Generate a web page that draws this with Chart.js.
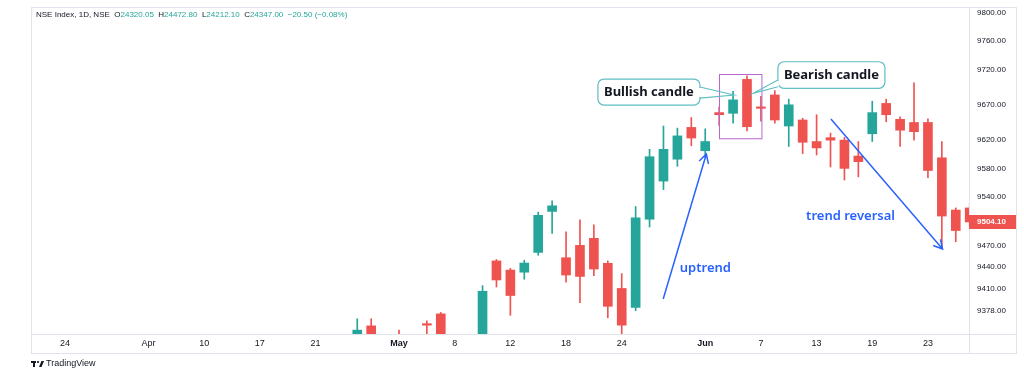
<!DOCTYPE html>
<html>
<head>
<meta charset="utf-8">
<script src="https://cdn.jsdelivr.net/npm/chart.js@4.4.0/dist/chart.umd.min.js"></script>
<style>
html, body { margin: 0; padding: 0; background: #ffffff; }
canvas { display: block; }
</style>
</head>
<body>
<canvas id="nse_chart" width="1024" height="374"></canvas>
<script>
// 営業日番号(0 = 3/24)ごとの軸ラベル
const tickPos    = [0, 6, 10, 14, 18, 24, 28, 32, 36, 40, 46, 50, 54, 58, 62];
const tickLabels = ['24', 'Apr', '10', '17', '21', 'May', '8', '12', '18', '24', 'Jun', '7', '13', '19', '23'];
// 価格軸の目盛り
const priceTicks = [9800, 9760, 9720, 9670, 9620, 9580, 9540, 9470, 9440, 9410, 9378];

// ローソク足(営業日番号 21 から 65 まで)
const firstIndex = 21;
const opens  = [9335, 9357, null, 9340, null, 9359, 9374, null, null,
                9330, 9449, 9436, 9433, 9461, 9519, 9453.5, 9471, 9481, 9445.6, 9410,
                9383, 9508, 9562, 9593, 9638, 9605, 9659, 9658, 9706, 9666,
                9684, 9640, 9648.5, 9618, 9623.5, 9620, 9597.5, 9629, 9672, 9649.5,
                9645, 9645, 9595, 9521, 9524];
const highs  = [9367, 9367, null, 9351, null, 9364, 9376, null, null,
                9414, 9451, 9438.5, 9450, 9518, 9534, 9490, 9507, 9500, 9449, 9431,
                9526, 9607, 9640, 9637, 9652, 9636, 9667, 9689, 9711, 9682,
                9690, 9678, 9651, 9656, 9630, 9624, 9618, 9675, 9678, 9653,
                9701, 9650, 9618, 9524, 9530];
const lows   = [9325, 9330, null, 9320, null, 9340, 9330, null, null,
                9320, 9412, 9372, 9423, 9457, 9488, 9419, 9390, 9428, 9368.5, 9340,
                9378.5, 9497, 9550, 9583, 9612, 9596, 9641, 9644, 9633, 9647,
                9644, 9611, 9601, 9599, 9582, 9563.5, 9568, 9618, 9646, 9611,
                9620, 9567, 9467, 9476, 9498];
const closes = [9351, 9340, null, 9330, null, 9358, 9340, null, null,
                9406, 9422, 9400, 9446, 9513.5, 9527, 9429, 9427, 9437.5, 9384.7, 9358,
                9510, 9596.5, 9607, 9626, 9623, 9618, 9656, 9677, 9639, 9665,
                9648.5, 9670, 9617, 9609, 9620, 9580, 9589.5, 9659, 9656, 9634,
                9632, 9577, 9512.5, 9492, 9504.1];

const UP = '#26a69a';
const DOWN = '#ef5350';
const TEXT = '#131722';
const LINE = '#e0e3eb';
const BLUE = '#2962ff';
const SANS = '"Liberation Sans", Arial, sans-serif';

// 実体とヒゲのデータを作成
let bodies = [];
let wicks = [];
let colors = [];
opens.forEach(function(o, i) {
    if (o === null) return;
    const x = firstIndex + i;
    bodies.push({ x: x, y: [o, closes[i]] });
    wicks.push({ x: x, y: [lows[i], highs[i]] });
    colors.push(closes[i] >= o ? UP : DOWN);
});

// 注釈(データ座標)
const callouts = [
    { text: 'Bullish candle', x0: 38.29, x1: 45.62, y0: 9706.5, y1: 9669.7, side: 'right', base: [9695.2, 9679.6], tip: [48.06, 9683.9] },
    { text: 'Bearish candle', x0: 51.22, x1: 58.91, y0: 9731.0, y1: 9693.4, side: 'left',  base: [9705.1, 9695.6], tip: [49.45, 9686.3] }
];
const arrows = [
    { from: [42.98, 9395.0], to: [46.08, 9600.3] },
    { from: [55.03, 9649.9], to: [63.05, 9465.8] }
];
const notes = [
    { text: 'uptrend', x: 46.01, y: 9438.9 },
    { text: 'trend reversal', x: 56.44, y: 9512.5 }
];
const markBox = { x0: 47.0, x1: 50.05, y0: 9713.6, y1: 9622.6 };

function roundRect(ctx, x, y, w, h, r) {
    ctx.beginPath();
    ctx.moveTo(x + r, y);
    ctx.lineTo(x + w - r, y);
    ctx.arcTo(x + w, y, x + w, y + r, r);
    ctx.lineTo(x + w, y + h - r);
    ctx.arcTo(x + w, y + h, x + w - r, y + h, r);
    ctx.lineTo(x + r, y + h);
    ctx.arcTo(x, y + h, x, y + h - r, r);
    ctx.lineTo(x, y + r);
    ctx.arcTo(x, y, x + r, y, r);
    ctx.closePath();
}

const overlayPlugin = {
    id: 'overlay',
    beforeDraw(chart) {
        const ctx = chart.ctx;
        const a = chart.chartArea;
        const xs = chart.scales.x;
        const ys = chart.scales.y;
        ctx.save();
        ctx.strokeStyle = LINE;
        ctx.lineWidth = 1;
        ctx.strokeRect(a.left + 0.5, a.top + 0.5, ys.right - a.left - 1, xs.bottom - a.top);
        ctx.beginPath();
        ctx.moveTo(a.left, a.bottom + 0.5);
        ctx.lineTo(ys.right, a.bottom + 0.5);
        ctx.moveTo(a.right + 0.5, a.top);
        ctx.lineTo(a.right + 0.5, xs.bottom);
        ctx.stroke();
        ctx.restore();
    },
    afterDatasetsDraw(chart) {
        const ctx = chart.ctx;
        const xs = chart.scales.x;
        const ys = chart.scales.y;
        const px = v => xs.getPixelForValue(v);
        const py = v => ys.getPixelForValue(v);
        ctx.save();

        // 紫の枠
        ctx.strokeStyle = '#b866d0';
        ctx.lineWidth = 1;
        ctx.strokeRect(Math.round(px(markBox.x0)) + 0.5, Math.round(py(markBox.y0)) + 0.5,
            px(markBox.x1) - px(markBox.x0), py(markBox.y1) - py(markBox.y0));

        // 吹き出し
        callouts.forEach(function(c) {
            const x0 = px(c.x0), x1 = px(c.x1), y0 = py(c.y0), y1 = py(c.y1);
            const ex = c.side === 'right' ? x1 : x0;
            ctx.fillStyle = '#ffffff';
            ctx.strokeStyle = '#5fbfc2';
            ctx.lineWidth = 1.2;
            roundRect(ctx, x0, y0, x1 - x0, y1 - y0, 6);
            ctx.fill();
            ctx.stroke();
            ctx.beginPath();
            ctx.moveTo(ex, py(c.base[0]));
            ctx.lineTo(px(c.tip[0]), py(c.tip[1]));
            ctx.lineTo(ex, py(c.base[1]));
            ctx.stroke();
            ctx.strokeStyle = '#ffffff';
            ctx.lineWidth = 2;
            ctx.beginPath();
            ctx.moveTo(ex, py(c.base[0]) + 1);
            ctx.lineTo(ex, py(c.base[1]) - 1);
            ctx.stroke();
            ctx.fillStyle = TEXT;
            ctx.font = 'bold 13px "Noto Sans"';
            ctx.textAlign = 'center';
            ctx.textBaseline = 'middle';
            ctx.fillText(c.text, (x0 + x1) / 2, (y0 + y1) / 2);
        });

        // 矢印
        ctx.strokeStyle = BLUE;
        ctx.lineWidth = 1.5;
        arrows.forEach(function(ar) {
            const x0 = px(ar.from[0]), y0 = py(ar.from[1]);
            const x1 = px(ar.to[0]), y1 = py(ar.to[1]);
            const ang = Math.atan2(y1 - y0, x1 - x0);
            ctx.beginPath();
            ctx.moveTo(x0, y0);
            ctx.lineTo(x1, y1);
            ctx.moveTo(x1 - 10 * Math.cos(ang - 0.5), y1 - 10 * Math.sin(ang - 0.5));
            ctx.lineTo(x1, y1);
            ctx.lineTo(x1 - 10 * Math.cos(ang + 0.5), y1 - 10 * Math.sin(ang + 0.5));
            ctx.stroke();
        });
        ctx.fillStyle = BLUE;
        ctx.font = '600 13px "Noto Sans"';
        ctx.textAlign = 'center';
        ctx.textBaseline = 'middle';
        notes.forEach(function(n) {
            ctx.fillText(n.text, px(n.x), py(n.y));
        });
        ctx.restore();
    },
    afterDraw(chart) {
        const ctx = chart.ctx;
        const a = chart.chartArea;
        const ys = chart.scales.y;
        const xs = chart.scales.x;
        ctx.save();

        // 凡例(OHLC)
        const parts = [
            ['NSE Index, 1D, NSE  O', TEXT], ['24320.05', UP],
            ['  H', TEXT], ['24472.80', UP],
            ['  L', TEXT], ['24212.10', UP],
            ['  C', TEXT], ['24347.00', UP],
            ['  \u221220.50 (\u22120.08%)', UP]
        ];
        ctx.font = '8px ' + SANS;
        ctx.textBaseline = 'middle';
        ctx.textAlign = 'left';
        let tx = a.left + 5;
        parts.forEach(function(p) {
            ctx.fillStyle = p[1];
            ctx.fillText(p[0], tx, a.top + 8);
            tx += ctx.measureText(p[0]).width;
        });

        // 現在値ラベル
        const last = closes[closes.length - 1];
        const ly = ys.getPixelForValue(last);
        ctx.fillStyle = DOWN;
        ctx.fillRect(ys.left, Math.round(ly) - 7, ys.right - ys.left - 1, 14);
        ctx.fillStyle = '#ffffff';
        ctx.font = 'bold 8px ' + SANS;
        ctx.fillText(last.toFixed(2), ys.left + 8, ly);

        // ロゴ
        const lx = a.left, lyy = xs.bottom + 11;
        ctx.fillStyle = TEXT;
        ctx.fillRect(lx, lyy - 3, 5, 2);
        ctx.fillRect(lx + 2, lyy - 3, 2, 6);
        ctx.beginPath();
        ctx.arc(lx + 7, lyy - 2, 1.1, 0, Math.PI * 2);
        ctx.fill();
        ctx.beginPath();
        ctx.moveTo(lx + 8, lyy + 3);
        ctx.lineTo(lx + 10.5, lyy + 3);
        ctx.lineTo(lx + 13, lyy - 3);
        ctx.lineTo(lx + 10.5, lyy - 3);
        ctx.closePath();
        ctx.fill();
        ctx.font = '9px ' + SANS;
        ctx.fillText('TradingView', lx + 15, lyy);
        ctx.restore();
    }
};

function tickFont(ctx) {
    const v = ctx && ctx.tick ? ctx.tick.value : null;
    const lbl = tickLabels[tickPos.indexOf(v)];
    return { family: SANS, size: 9, weight: (lbl === 'May' || lbl === 'Jun') ? 'bold' : 'normal' };
}

// 軸ラベルによる余白を消す
function noPadding(scale) {
    scale.paddingTop = 0;
    scale.paddingBottom = 0;
    scale.paddingLeft = 0;
    scale.paddingRight = 0;
}

const canvas = document.getElementById('nse_chart');
const chart = new Chart(canvas.getContext('2d'), {
    type: 'bar',
    data: {
        datasets: [
            {
                label: 'body',
                data: bodies,
                backgroundColor: colors,
                barThickness: 9,
                minBarLength: 1.5,
                grouped: false,
                order: 0
            },
            {
                label: 'wick',
                data: wicks,
                backgroundColor: colors,
                barThickness: 1,
                grouped: false,
                order: 1
            }
        ]
    },
    options: {
        responsive: false,
        animation: false,
        layout: { padding: { left: 31, top: 7, right: 7, bottom: 21 } },
        plugins: { legend: { display: false }, tooltip: { enabled: false } },
        scales: {
            x: {
                type: 'linear',
                offset: false,
                min: -2.44,
                max: 64.95,
                grid: { display: false, drawTicks: false, offset: false },
                border: { display: false },
                afterBuildTicks: function(scale) {
                    scale.ticks = tickPos.map(v => ({ value: v }));
                },
                afterFit: function(scale) { scale.height = 19; noPadding(scale); },
                ticks: {
                    autoSkip: false,
                    maxRotation: 0,
                    padding: 4,
                    color: TEXT,
                    font: tickFont,
                    callback: function(value) {
                        const i = tickPos.indexOf(value);
                        return i >= 0 ? tickLabels[i] : '';
                    }
                }
            },
            y: {
                position: 'right',
                min: 9345.5,
                max: 9808.5,
                grid: { display: false, drawTicks: false },
                border: { display: false },
                afterBuildTicks: function(scale) {
                    scale.ticks = priceTicks.map(v => ({ value: v }));
                },
                afterFit: function(scale) { scale.width = 48; noPadding(scale); },
                ticks: {
                    padding: 8,
                    color: TEXT,
                    font: { family: SANS, size: 8 },
                    callback: function(value) { return Number(value).toFixed(2); }
                }
            }
        }
    },
    plugins: [overlayPlugin]
});
</script>
</body>
</html>
